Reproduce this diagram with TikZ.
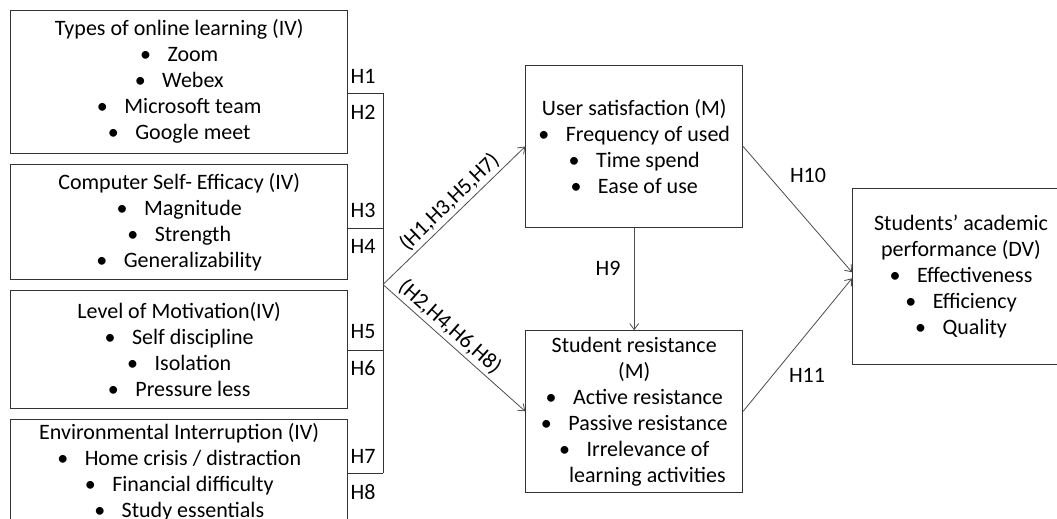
\documentclass[tikz,border=0pt]{standalone}
\usepackage{fontspec}
\setmainfont{Carlito}
\usetikzlibrary{arrows.meta,positioning}

\newcommand{\itm}[1]{\textbullet\hspace{0.75em}#1}

\begin{document}
\begin{tikzpicture}[
  x=1pt, y=-1pt,
  varbox/.style={draw=black!80, line width=0.9pt, align=center, minimum width=337pt, inner sep=0pt, font=\fontsize{22}{26}\selectfont},
  medbox/.style={varbox, minimum width=217pt},
  hlab/.style={inner sep=0pt, font=\fontsize{22}{26}\selectfont},
  brk/.style={draw=black!80, line width=0.9pt},
  arr/.style={draw=black!70, line width=0.8pt},
  >={Straight Barb[length=6pt,width=9pt]}
]
\useasboundingbox (0,0) rectangle (1057,519);
\clip (0,0) rectangle (1057,519);

% Independent variables
\node[varbox, minimum height=143.3pt] (online) at (179.2,81.7) {%
  Types of online learning (IV)\\ \itm{Zoom}\\ \itm{Webex}\\
  \itm{Microsoft team}\\ \itm{Google meet}};
\node[varbox, minimum height=115pt] (efficacy) at (179.2,221.8) {%
  Computer Self- Efficacy (IV)\\ \itm{Magnitude}\\ \itm{Strength}\\
  \itm{Generalizability}};
\node[varbox, minimum height=117.3pt] (motivation) at (179.2,349.4) {%
  Level of Motivation(IV)\\ \itm{Self discipline}\\ \itm{Isolation}\\
  \itm{Pressure less}};
\node[varbox, minimum height=106.4pt] (interrupt) at (179.2,472.5) {%
  Environmental Interruption (IV)\\ \itm{Home crisis / distraction}\\
  \itm{Financial difficulty}\\ \itm{Study essentials}};

% Mediators and outcome
\node[medbox, minimum height=161.6pt] (satis) at (634.2,146.5) {%
  User satisfaction (M)\\ \itm{Frequency of used}\\ \itm{Time spend}\\
  \itm{Ease of use}};
\node[medbox, minimum height=161.3pt] (resist) at (634.2,411.3) {%
  Student resistance\\ (M)\\ \itm{Active resistance}\\
  \itm{Passive resistance}\\ \itm{Irrelevance of}\\
  \hspace*{1.2em}learning activities};
\node[medbox, minimum height=175.3pt] (perf) at (961,276.3) {%
  Students’ academic\\ performance (DV)\\ \itm{Effectiveness}\\
  \itm{Efficiency}\\ \itm{Quality}};

% Bracket
\coordinate (k1) at (383,93.3);
\coordinate (k2) at (383,228.7);
\coordinate (k3) at (383,350);
\coordinate (k4) at (383,473.3);
\coordinate (fork) at (383,284.5);
\draw[brk] (k1) -- (k4);
\foreach \b/\k in {online/k1, efficacy/k2, motivation/k3, interrupt/k4}
  \draw[brk] (\k -| \b.east) -- (\k);
\foreach \n/\y in {1/76, 2/112, 3/210.7, 4/246.7, 5/332, 6/368, 7/456.7, 8/491.7}
  \node[hlab, anchor=west] (h\n) at (350.5,\y) {H\n};

% Arrows
\draw[->, arr] (fork) -- (satis.west)
  node[hlab, sloped, above, pos=0.53, inner sep=3pt] (upl) {(H1,H3,H5,H7)};
\draw[->, arr] (fork) -- (resist.west)
  node[hlab, sloped, above, pos=0.41, inner sep=3pt] (downl) {(H2,H4,H6,H8)};
\draw[->, arr] (satis) -- (resist);
\draw[->, arr] (satis.east) -- ([yshift=4pt]perf.west);
\draw[->, arr] (resist.east) -- ([yshift=-2pt]perf.west);

\node[hlab] (h9) at (608,268) {H9};
\node[hlab] (h10) at (808,175) {H10};
\node[hlab] (h11) at (807,375) {H11};

\end{tikzpicture}
\end{document}
